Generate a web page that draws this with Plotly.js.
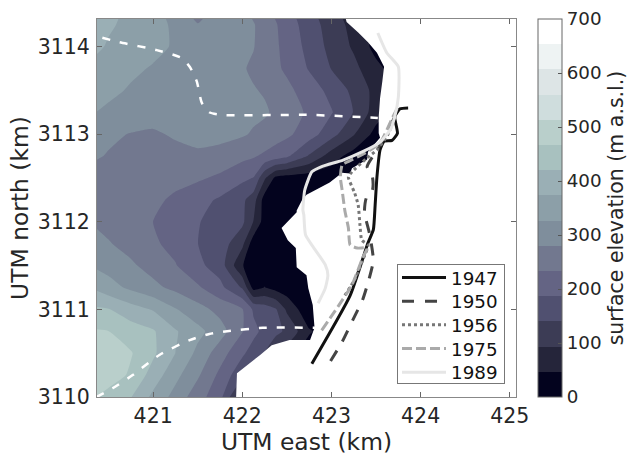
<!DOCTYPE html>
<html><head><meta charset="utf-8">
<script src="https://cdn.plot.ly/plotly-3.0.1.min.js"></script>
<style>html,body{margin:0;padding:0;background:#fff}</style>
</head><body><div id="chart" style="width:633px;height:458px"></div>
<script>
const gridEast = [420.25,420.5,420.75,421,421.25,421.5,421.75,422,422.125,422.25,422.375,422.5,422.75,423,423.25,423.5,423.75];
const gridNorth = [3110,3110.25,3110.5,3110.75,3111,3111.25,3111.5,3111.75,3112,3112.25,3112.5,3112.75,3113,3113.25,3113.5,3113.75,3114,3114.25,3114.5];
const elevation = [
 [480,450,422,362,310,253,202,60,20,20,15,10,10,10,10,10,10],
 [520,490,460,400,340,287,222,152,105,60,35,20,10,10,10,10,10],
 [505,488,470,428,373,315,255,195,165,138,105,70,20,10,10,10,10],
 [472,467,443,425,378,340,300,236,200,172,150,133,52,20,10,10,10],
 [428,422,393,370,330,298,265,237,180,165,145,85,10,10,10,10,10],
 [378,345,317,292,268,240,200,135,30,48,30,20,5,5,5,5,5],
 [330,310,287,263,236,198,165,50,15,15,12,8,5,5,5,5,5],
 [296,283,265,240,220,187,165,105,20,15,12,8,5,5,5,5,5],
 [282,267,250,233,213,190,165,150,92,25,15,10,8,5,5,5,5],
 [268,262,255,243,225,203,180,150,115,25,18,15,10,10,5,5,5],
 [265,262,258,252,247,240,225,197,185,100,35,25,20,15,10,5,5],
 [290,277,265,260,262,272,262,246,238,225,210,195,135,70,25,10,5],
 [290,288,278,272,287,294,295,285,275,265,255,243,208,158,97,30,15],
 [333,318,310,305,300,298,295,292,290,286,272,258,225,190,138,70,25],
 [350,337,322,315,308,302,296,290,283,276,262,245,210,173,128,78,30],
 [368,350,335,323,311,303,295,284,273,258,242,225,183,138,106,60,20],
 [395,368,350,338,322,310,298,288,282,260,240,218,172,125,87,30,10],
 [410,380,360,340,320,283,295,288,283,262,237,212,163,118,78,30,10],
 [425,395,365,335,300,240,290,282,262,240,217,195,145,100,60,20,10]
];
const bandColors = ['#03031e','#25253a','#3c3c55','#505070','#646484','#72788f','#7f8e9c','#8c9fa8','#9aafb5','#a8c1bf','#b9cfcb','#cfdddd','#dde5e6','#eef3f3','#ffffff'];
const iceEast = [423.15,423.17,423.30,423.41,423.51,423.59,423.57,423.545,423.53,423.53,423.545,423.41,423.40,423.23,423.21,423.12,422.98,422.89,422.72,422.67,422.61,422.61,422.44,422.51,422.60,422.61,422.72,422.74,422.79,422.81,422.76,422.53,422.33,422.20,421.94,421.93,425.2,425.2];
const iceNorth = [3114.36,3114.28,3114.16,3114.05,3113.93,3113.77,3113.60,3113.41,3113.20,3113.01,3112.96,3112.80,3112.71,3112.61,3112.55,3112.56,3112.45,3112.40,3112.31,3112.25,3112.13,3112.11,3111.93,3111.79,3111.70,3111.48,3111.39,3111.24,3111.05,3110.79,3110.65,3110.65,3110.59,3110.48,3110.27,3109.98,3109.98,3114.36];
const flowTopE = [420.43,420.62,421.04,421.32,421.41,421.49,421.545,421.63,421.77,422.76,423.52];
const flowTopN = [3114.10,3114.05,3113.96,3113.87,3113.77,3113.60,3113.36,3113.25,3113.22,3113.22,3113.185];
const flowBotE = [420.365,420.545,420.77,421.07,421.41,421.63,421.83,422.23,422.83];
const flowBotN = [3110,3110.10,3110.25,3110.48,3110.65,3110.72,3110.75,3110.79,3110.79];
const e1947 = [422.78,423.21,423.41,423.47,423.49,423.51,423.545,423.59,423.68,423.74,423.71,423.77,423.86];
const n1947 = [3110.38,3111.16,3111.76,3111.91,3112.19,3112.51,3112.82,3112.92,3112.93,3113.01,3113.20,3113.29,3113.30];
const e1950 = [422.99,423.12,423.24,423.35,423.42,423.47,423.43,423.37,423.39,423.46,423.46,423.40,423.51,423.62,423.71,423.75];
const n1950 = [3110.41,3110.63,3110.88,3111.11,3111.34,3111.56,3111.85,3112.11,3112.27,3112.36,3112.51,3112.63,3112.82,3113.01,3113.20,3113.28];
const e1956 = [423.15,423.26,423.35,423.41,423.34,423.32,423.30,423.26,423.19,423.23,423.40,423.51,423.63,423.72];
const n1956 = [3111.16,3111.34,3111.56,3111.735,3111.79,3111.96,3112.19,3112.33,3112.51,3112.57,3112.73,3112.82,3112.99,3113.22];
const e1975 = [422.89,423.23,423.35,423.40,423.29,423.21,423.19,423.15,423.12,423.10,423.12,423.17,423.38,423.545,423.69,423.74];
const n1975 = [3110.76,3111.28,3111.59,3111.70,3111.70,3111.735,3111.93,3112.13,3112.36,3112.51,3112.65,3112.68,3112.785,3112.90,3113.20,3113.30];
const e1989 = [423.52,423.62,423.75,423.75,423.71,423.66,423.545,423.35,423.13,422.89,422.78,422.70,422.68,422.69,422.71,422.93,422.96,422.93,422.85];
const n1989 = [3114.155,3113.93,3113.77,3113.42,3113.20,3113.05,3112.91,3112.80,3112.705,3112.63,3112.57,3112.36,3112.13,3112.08,3111.85,3111.51,3111.39,3111.24,3111.07];
const eastTicks = [421,422,423,424,425];
const northTicks = [3110,3111,3112,3113,3114];
const elevTicks = [0,100,200,300,400,500,600,700];

const n = bandColors.length, scale = [];
bandColors.forEach((c,i)=>{scale.push([i/n,c]);scale.push([(i+1)/n,c]);});
const font = 'DejaVu Sans, sans-serif', ink = '#262626';
function front(name,x,y,color,dash){
  return {type:'scatter',mode:'lines',name,x,y,line:{color,width:3,dash,shape:'spline',smoothing:0.5},hoverinfo:'skip'};
}
function flow(x,y){
  return {type:'scatter',mode:'lines',x,y,showlegend:false,line:{color:'#ffffff',width:2.5,dash:'8px,10px',shape:'spline',smoothing:0.6},hoverinfo:'skip'};
}
const traces = [
 {type:'contour',x:gridEast,y:gridNorth,z:elevation,zmin:0,zmax:700,autocontour:false,
  contours:{start:0,end:700,size:700/15,coloring:'fill',showlines:false},
  line:{width:0,smoothing:0.5},colorscale:scale,showlegend:false,hoverinfo:'skip',
  colorbar:{x:1.0525,xanchor:'left',y:0,yanchor:'bottom',len:1,lenmode:'fraction',thickness:24,thicknessmode:'pixels',xpad:0,ypad:0,
    outlinecolor:'#666',outlinewidth:1,tickmode:'array',tickvals:elevTicks,ticks:'inside',ticklen:4,tickcolor:'#555',tickprefix:'\u2009',ticksuffix:'\u2009\u2009',
    tickfont:{family:font,size:18.3,color:ink},
    title:{text:'surface elevation (m a.s.l.)',side:'right',font:{family:font,size:20.5,color:ink}}}},
 {type:'scatter',mode:'lines',x:iceEast,y:iceNorth,fill:'toself',fillcolor:'#ffffff',line:{width:0,color:'#ffffff'},showlegend:false,hoverinfo:'skip'},
 flow(flowTopE,flowTopN),
 flow(flowBotE,flowBotN),
 front('1947',e1947,n1947,'#111111','solid'),
 front('1950',e1950,n1950,'#444444','12px,11px'),
 front('1956',e1956,n1956,'#777777','3px,3px'),
 front('1975',e1975,n1975,'#aaaaaa','10px,4px'),
 front('1989',e1989,n1989,'#e6e6e6','solid')
];
const axis = {showgrid:false,zeroline:false,showline:true,linecolor:'#888',linewidth:1,mirror:'ticks',ticks:'inside',ticklen:5,tickcolor:'#666',tickfont:{family:font,size:20.5,color:ink}};
const layout = {
 width:633,height:458,margin:{l:97,r:117,t:19,b:61,autoexpand:false},paper_bgcolor:'#fff',plot_bgcolor:'#fff',
 xaxis:Object.assign({},axis,{range:[420.37,425.07],tickmode:'array',tickvals:eastTicks,ticktext:eastTicks.map(String),
   title:{text:'UTM east (km)',font:{family:font,size:23.4,color:ink},standoff:2}}),
 yaxis:Object.assign({},axis,{range:[3110,3114.315],tickmode:'array',tickvals:northTicks,ticktext:northTicks.map(String),ticklabelstandoff:2,
   title:{text:'UTM north (km)',font:{family:font,size:23.4,color:ink},standoff:2}}),
 legend:{x:0.716,xanchor:'left',y:0.352,yanchor:'top',bgcolor:'#fff',bordercolor:'#777',borderwidth:1,itemwidth:44,
   font:{family:font,size:18.3,color:'#111'},traceorder:'normal',tracegroupgap:0}
};
Plotly.newPlot('chart',traces,layout,{displayModeBar:false}).then(()=>{
  // Tighten the legend's row spacing to the reference's 23.7 px rows.
  const rows = document.querySelectorAll('.legend .traces');
  rows.forEach((g,i)=>g.setAttribute('transform','translate(0,'+(13.5+i*23.7)+')'));
  const bg = document.querySelector('.legend rect.bg');
  if(bg) bg.setAttribute('height',119);
});
</script></body></html>
